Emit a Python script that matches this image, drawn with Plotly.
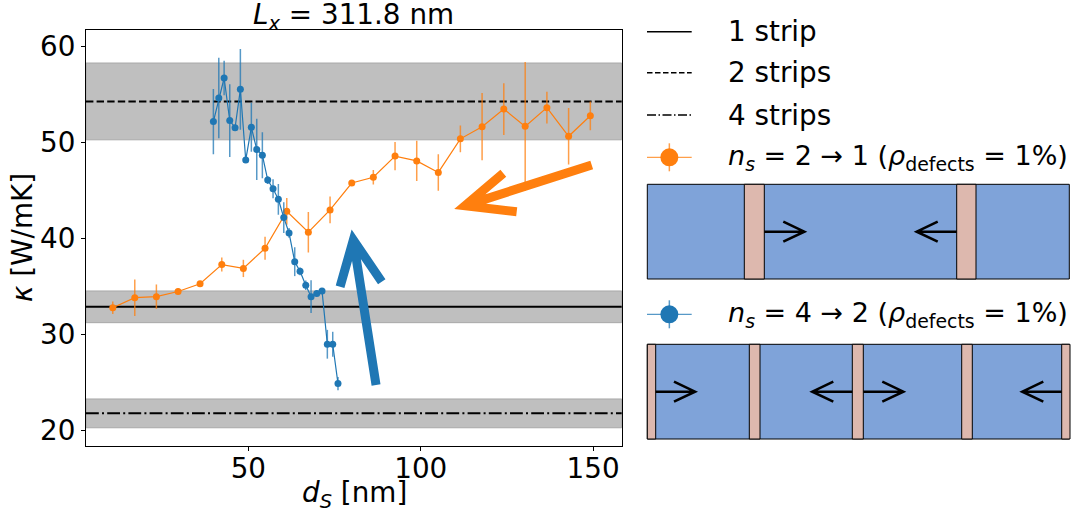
import plotly.graph_objects as go

W, H = 1075, 518

# ---------------- data ----------------
ds_orange = [10.67, 17.05, 23.32, 29.61, 35.99, 42.29, 48.55, 54.84, 61.14, 67.4, 73.7, 79.99,
             86.25, 92.55, 98.84, 105.1, 111.5, 117.8, 124.1, 130.3, 136.6, 142.9, 149.2]
kappa_orange = [32.8, 33.85, 33.96, 34.5, 35.3, 37.3, 36.9, 39.0, 42.85, 40.67, 43.0, 45.8,
                46.4, 48.6, 48.1, 46.9, 50.4, 51.67, 53.5, 51.7, 53.65, 50.67, 52.8]
err_orange = [0.66, 1.9, 1.27, 0.3, 0.3, 0.73, 0.9, 1.2, 1.4, 2.1, 1.4, 0.3,
              0.75, 1.47, 2.1, 1.9, 1.4, 3.5, 2.7, 6.7, 1.65, 2.95, 1.5]

ds_blue = [39.85, 41.42, 42.97, 44.6, 46.14, 47.68, 49.24, 50.87, 52.43, 54.06, 55.62, 57.16,
           58.7, 60.27, 61.8, 63.45, 64.99, 66.65, 68.19, 69.84, 71.37, 72.91, 74.47, 76.0]
kappa_blue = [52.2, 54.66, 56.74, 52.3, 51.56, 55.56, 48.2, 51.6, 49.3, 48.7, 46.1, 45.2,
              44.1, 42.2, 40.6, 37.6, 36.6, 35.15, 33.96, 34.3, 34.55, 29.0, 29.0, 24.9]
err_blue = [3.4, 4.2, 1.8, 3.8, 0.3, 4.2, 0.3, 2.55, 3.2, 2.4, 0.4, 1.0,
            1.6, 1.6, 0.5, 1.5, 0.4, 0.5, 1.7, 0.3, 0.3, 1.5, 1.3, 0.7]

strip_labels = ["1 strip", "2 strips", "4 strips"]
strip_kappa = [32.9, 54.3, 21.8]
strip_err = [1.65, 4.0, 1.5]

series_labels = ["<i>n</i><sub><i>s</i></sub> = 2 → 1 (<i>ρ</i><sub>defects</sub> = 1%)",
                 "<i>n</i><sub><i>s</i></sub> = 4 → 2 (<i>ρ</i><sub>defects</sub> = 1%)"]

x_ticks = [50, 100, 150]
y_ticks = [20, 30, 40, 50, 60]

# ---------------- styles / layout constants ----------------
FONT = "DejaVu Sans"
FS = 27.8
FS_SERIES = 27.0
BLUE = "#1f77b4"
ORANGE = "#ff7f0e"
BLUE_ERR = "rgba(31,119,180,0.75)"
ORANGE_ERR = "rgba(255,127,14,0.75)"
BAND_FILL = "#bfbfbf"
BAND_EDGE = "#a8a8a8"
DASHES = ["solid", "7.4px,3.2px", "12.8px,3.2px,2px,3.2px"]
LEG_DASHES = ["solid", "5.5px,2.5px", "9px,2.5px,1.5px,2.5px"]
BOX_BLUE = "#7fa3d9"
STRIP_PINK = "#ddb8ae"

AX_L, AX_R, AX_T, AX_B = 86, 621.7, 30, 446
X_RANGE = [2.9, 158.3]
Y_RANGE = [18.4, 61.74]


def PX(x):
    return x / W


def PY(y):
    return 1 - y / H


fig = go.Figure()

fig.add_trace(go.Scatter(
    x=ds_orange, y=kappa_orange, mode="lines+markers",
    line=dict(color=ORANGE, width=1.2),
    marker=dict(color=ORANGE, size=7),
    error_y=dict(type="data", array=err_orange, color=ORANGE_ERR, thickness=1.5, width=0),
    showlegend=False, hoverinfo="skip"))

fig.add_trace(go.Scatter(
    x=ds_blue, y=kappa_blue, mode="lines+markers",
    line=dict(color=BLUE, width=1.2),
    marker=dict(color=BLUE, size=7),
    error_y=dict(type="data", array=err_blue, color=BLUE_ERR, thickness=1.5, width=0),
    showlegend=False, hoverinfo="skip"))

shapes = []
# gray bands
for k, e in zip(strip_kappa, strip_err):
    shapes.append(dict(type="rect", xref="x domain", yref="y", x0=0, x1=1, y0=k - e, y1=k + e,
                       fillcolor=BAND_FILL, line=dict(color=BAND_EDGE, width=1), layer="below"))
# reference lines
for k, d in zip(strip_kappa, DASHES):
    shapes.append(dict(type="line", xref="x domain", yref="y", x0=0, x1=1, y0=k, y1=k,
                       line=dict(color="black", width=2, dash=d), layer="below"))

# big arrows in data coordinates
ARROWS = [
    dict(color=BLUE, tail=(87.04, 24.76), tip=(80.45, 39.86), a1=(76.6, 35.0), a2=(88.69, 35.52)),
    dict(color=ORANGE, tail=(149.6, 47.68), tip=(112.85, 43.44), a1=(123.96, 46.81), a2=(127.84, 42.81)),
]
for a in ARROWS:
    p = "M {},{} L {},{} M {},{} L {},{} L {},{}".format(
        a["tail"][0], a["tail"][1], a["tip"][0], a["tip"][1],
        a["a1"][0], a["a1"][1], a["tip"][0], a["tip"][1], a["a2"][0], a["a2"][1])
    shapes.append(dict(type="path", xref="x", yref="y", path=p,
                       line=dict(color=a["color"], width=9), layer="above"))

# ---------------- manual legend + schematics (pixel positions) ----------------
LEG_X0, LEG_X1, LEG_TX = 647, 691.7, 729
LEG_Y = [31.7, 72.7, 115.0]
for y, d in zip(LEG_Y, LEG_DASHES):
    shapes.append(dict(type="line", xref="paper", yref="paper", x0=PX(LEG_X0), x1=PX(LEG_X1),
                       y0=PY(y), y1=PY(y), line=dict(color="black", width=1.6, dash=d)))

SERIES_LEG_Y = [157.3, 314.3]
SERIES_COL = [(ORANGE, ORANGE_ERR), (BLUE, BLUE_ERR)]
for y, (c, ce) in zip(SERIES_LEG_Y, SERIES_COL):
    cx = (LEG_X0 + LEG_X1) / 2
    shapes.append(dict(type="line", xref="paper", yref="paper", x0=PX(LEG_X0), x1=PX(LEG_X1),
                       y0=PY(y), y1=PY(y), line=dict(color=ce, width=1.2)))
    shapes.append(dict(type="line", xref="paper", yref="paper", x0=PX(cx), x1=PX(cx),
                       y0=PY(y - 14), y1=PY(y + 14), line=dict(color=ce, width=1.5)))
    shapes.append(dict(type="circle", xref="paper", yref="paper", x0=PX(cx - 9), x1=PX(cx + 9),
                       y0=PY(y - 9), y1=PY(y + 9), fillcolor=c, line=dict(color=c, width=0)))

SCHEMES = [
    dict(box=(647.3, 184.3, 1069.3, 279.0),
         strips=[(744.3, 764.3), (956.7, 976.0)],
         arrow_y=231.7,
         arrows=[(764.3, 804.3), (956.7, 916.7)]),
    dict(box=(647.3, 344.3, 1069.3, 439.0),
         strips=[(647.3, 655.7), (749.3, 760.0), (852.3, 863.3), (961.7, 972.3), (1061.7, 1070.0)],
         arrow_y=391.7,
         arrows=[(655.7, 695.0), (852.3, 812.3), (863.3, 903.3), (1061.7, 1022.3)]),
]
for s in SCHEMES:
    x0, y0, x1, y1 = s["box"]
    shapes.append(dict(type="rect", xref="paper", yref="paper", x0=PX(x0), x1=PX(x1),
                       y0=PY(y1), y1=PY(y0), fillcolor=BOX_BLUE, line=dict(color="black", width=1)))
    for sx0, sx1 in s["strips"]:
        shapes.append(dict(type="rect", xref="paper", yref="paper", x0=PX(sx0), x1=PX(sx1),
                           y0=PY(y1), y1=PY(y0), fillcolor=STRIP_PINK, line=dict(color="black", width=1)))
    ay = s["arrow_y"]
    for t0, t1 in s["arrows"]:
        sgn = 1 if t1 > t0 else -1
        hx = t1 - sgn * 21
        p = "M {},{} L {},{} M {},{} L {},{} L {},{}".format(
            PX(t0), PY(ay), PX(t1), PY(ay),
            PX(hx), PY(ay - 10), PX(t1), PY(ay), PX(hx), PY(ay + 10))
        shapes.append(dict(type="path", xref="paper", yref="paper", path=p,
                           line=dict(color="black", width=2.6)))

annotations = []
for y, t in zip(LEG_Y, strip_labels):
    annotations.append(dict(text=t, xref="paper", yref="paper", x=PX(LEG_TX - 3), y=PY(y),
                            xanchor="left", yanchor="middle", showarrow=False,
                            font=dict(size=FS, color="black", family=FONT)))
for y, t in zip(SERIES_LEG_Y, series_labels):
    annotations.append(dict(text=t, xref="paper", yref="paper", x=PX(LEG_TX - 3), y=PY(y),
                            xanchor="left", yanchor="middle", showarrow=False,
                            font=dict(size=FS_SERIES, color="black", family=FONT)))

# titles
annotations.append(dict(text="<i>L</i><sub><i>x</i></sub> = 311.8 nm", xref="paper", yref="paper",
                        x=PX(353), y=PY(16), xanchor="center", yanchor="middle", showarrow=False,
                        font=dict(size=FS, color="black", family=FONT)))
annotations.append(dict(text="<i>d</i><sub><i>S</i></sub> [nm]", xref="paper", yref="paper",
                        x=PX(354), y=PY(494), xanchor="center", yanchor="middle", showarrow=False,
                        font=dict(size=FS, color="black", family=FONT)))
annotations.append(dict(text="<i>κ</i> [W/mK]", xref="paper", yref="paper",
                        x=PX(23), y=PY(238), xanchor="center", yanchor="middle", showarrow=False,
                        textangle=-90, font=dict(size=FS, color="black", family=FONT)))

axis_common = dict(showgrid=False, zeroline=False, showline=True, mirror=True, linecolor="black",
                   linewidth=1, ticks="outside", ticklen=4, tickwidth=1, tickcolor="black",
                   tickfont=dict(size=FS, color="black", family=FONT), automargin=False)

fig.update_layout(
    width=W, height=H,
    margin=dict(l=0, r=0, t=0, b=0),
    paper_bgcolor="white", plot_bgcolor="white",
    font=dict(family=FONT, size=FS, color="black"),
    xaxis=dict(domain=[PX(AX_L), PX(AX_R)], range=X_RANGE, tickvals=x_ticks,
               ticklabelstandoff=-6, **axis_common),
    yaxis=dict(domain=[PY(AX_B), PY(AX_T)], range=Y_RANGE, tickvals=y_ticks, **axis_common),
    shapes=shapes,
    annotations=annotations,
    showlegend=False,
)

fig.write_html("out.html", config={"displayModeBar": False},
               post_script="document.body.style.margin='0px';document.body.style.overflow='hidden';")
